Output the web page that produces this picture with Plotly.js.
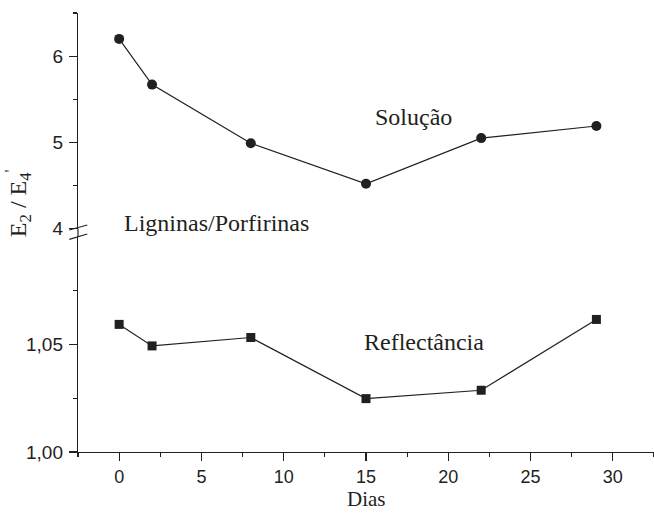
<!DOCTYPE html>
<html>
<head>
<meta charset="utf-8">
<script src="https://cdn.plot.ly/plotly-3.0.1.min.js"></script>
<style>html,body{margin:0;padding:0;background:#fff;}#chart{width:654px;height:516px;}</style>
</head>
<body>
<div id="chart"></div>
<script>
// Data
var dias = [0, 2, 8, 15, 22, 29];
var solucao = [6.20, 5.67, 4.99, 4.52, 5.05, 5.19];
var reflectancia = [1.0593, 1.0493, 1.0532, 1.0248, 1.0287, 1.0616];
var xTickVals = [0, 5, 10, 15, 20, 25, 30];
var upperTickVals = [4, 5, 6];
var upperTickText = ['4', '5', '6'];
var upperMinor = [4.5, 5.5, 6.5];
var lowerTickVals = [1.00, 1.05];
var lowerTickText = ['1,00', '1,05'];
var lowerMinor = [1.025, 1.075];

var ink = '#231f20';
var sans = 'Liberation Sans, Arial, sans-serif';
var serif = 'Liberation Serif, Times New Roman, serif';

var traces = [
  {x: dias, y: solucao, xaxis: 'x', yaxis: 'y2', type: 'scatter', mode: 'lines+markers',
   line: {color: ink, width: 1.2}, marker: {symbol: 'circle', size: 10, color: ink}},
  {x: dias, y: reflectancia, xaxis: 'x', yaxis: 'y', type: 'scatter', mode: 'lines+markers',
   line: {color: ink, width: 1.2}, marker: {symbol: 'square', size: 9, color: ink}}
];

var axCommon = {
  showline: true, linecolor: ink, linewidth: 1.2, showgrid: false, zeroline: false,
  ticks: 'outside', ticklen: 8, tickwidth: 1.2, tickcolor: ink,
  tickfont: {family: sans, size: 19, color: ink}
};

var layout = {
  width: 654, height: 516,
  margin: {l: 78, r: 0, t: 13, b: 64},
  paper_bgcolor: '#fff', plot_bgcolor: '#fff',
  showlegend: false,
  xaxis: Object.assign({}, axCommon, {
    range: [-2.5, 32.5], tickmode: 'array', tickvals: xTickVals, anchor: 'y',
    tickfont: {family: sans, size: 18, color: ink},
    minor: {tickmode: 'linear', tick0: -2.5, dtick: 5, ticks: 'outside', ticklen: 4, tickwidth: 1.2, tickcolor: ink}
  }),
  yaxis: Object.assign({}, axCommon, {
    domain: [0, 0.4897], range: [1.00, 1.0999], tickmode: 'array',
    tickvals: lowerTickVals, ticktext: lowerTickText, anchor: 'x', ticklabelstandoff: 2,
    minor: {tickmode: 'array', tickvals: lowerMinor, ticks: 'outside', ticklen: 4, tickwidth: 1.2, tickcolor: ink}
  }),
  yaxis2: Object.assign({}, axCommon, {
    domain: [0.5087, 1], range: [4, 6.5], tickmode: 'array',
    tickvals: upperTickVals, ticktext: upperTickText, anchor: 'x', ticklabelstandoff: 2,
    minor: {tickmode: 'array', tickvals: upperMinor, ticks: 'outside', ticklen: 4, tickwidth: 1.2, tickcolor: ink}
  }),
  shapes: [
    {type: 'line', xref: 'paper', yref: 'paper', x0: 0, x1: 0, y0: 0.4897, y1: 0.5087, line: {color: ink, width: 1.2}},
    {type: 'line', xref: 'paper', yref: 'paper', x0: -0.0151, x1: 0.0161, y0: 0.5057, y1: 0.5171, line: {color: ink, width: 1.2}},
    {type: 'line', xref: 'paper', yref: 'paper', x0: -0.0151, x1: 0.0161, y0: 0.4845, y1: 0.4966, line: {color: ink, width: 1.2}}
  ],
  annotations: [
    {text: 'Solução', xref: 'x', yref: 'y2', x: 17.9, y: 5.29, showarrow: false,
     xanchor: 'center', yanchor: 'middle', font: {family: serif, size: 24, color: ink}},
    {text: 'Reflectância', xref: 'x', yref: 'y', x: 18.5, y: 1.051, showarrow: false,
     xanchor: 'center', yanchor: 'middle', font: {family: serif, size: 24, color: ink}},
    {text: 'Ligninas/Porfirinas', xref: 'x', yref: 'paper', x: 5.93, y: 0.522, showarrow: false,
     xanchor: 'center', yanchor: 'middle', font: {family: serif, size: 24, color: ink}},
    {text: 'Dias', xref: 'paper', yref: 'paper', x: 0.5, y: -0.108, showarrow: false,
     xanchor: 'center', yanchor: 'middle', font: {family: serif, size: 21, color: ink}},
    {text: 'E<sub>2</sub> / E<sub>4</sub><sup>\'</sup>', xref: 'paper', yref: 'paper', x: -0.104, y: 0.567,
     xanchor: 'center', yanchor: 'middle',
     textangle: -90, showarrow: false, font: {family: serif, size: 24, color: ink}}
  ]
};

Plotly.newPlot('chart', traces, layout, {displayModeBar: false, staticPlot: true});
</script>
</body>
</html>
